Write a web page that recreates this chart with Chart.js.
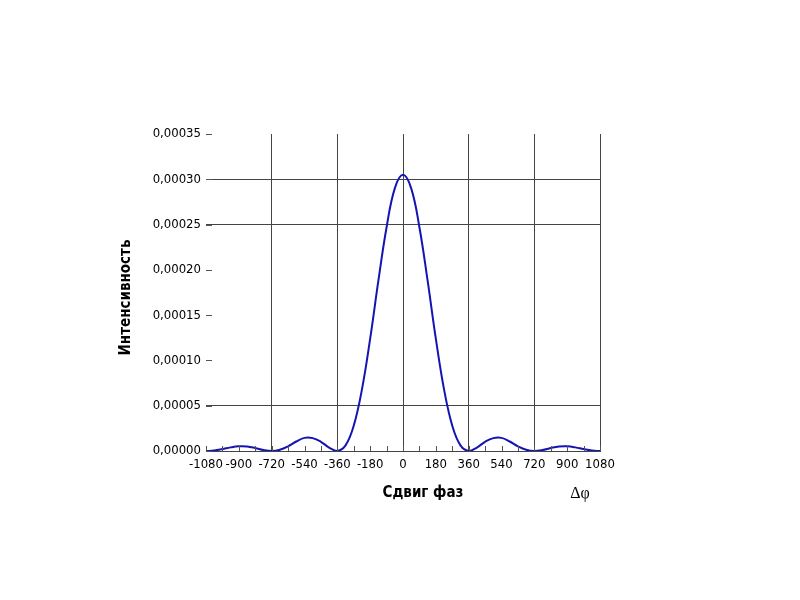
<!DOCTYPE html>
<html>
<head>
<meta charset="utf-8">
<script src="https://cdn.jsdelivr.net/npm/chart.js@4.4.1/dist/chart.umd.min.js"></script>
<style>
  html, body { margin: 0; padding: 0; background: #fff; }
</style>
</head>
<body>
<canvas id="myChart" width="800" height="600"></canvas>
<script>
// phase shift, degrees
const phaseShift = [-1080, -1035, -990, -945, -900, -855, -810, -765, -720, -675, -630, -585, -540, -495, -450, -405,
    -360, -315, -270, -225, -180, -135, -90, -45, 0, 45, 90, 135, 180, 225, 270, 315,
    360, 405, 450, 495, 540, 585, 630, 675, 720, 765, 810, 855, 900, 945, 990, 1035, 1080];
// intensity
const intensity = [0, 0.0000005, 0.0000021, 0.0000040, 0.0000052, 0.0000050, 0.0000033, 0.0000011,
    0, 0.0000014, 0.0000052, 0.0000105, 0.0000145, 0.0000142, 0.0000102, 0.0000038,
    0, 0.0000062, 0.000028, 0.000068, 0.000124, 0.000188, 0.000247, 0.000290, 0.000305,
    0.000290, 0.000247, 0.000188, 0.000124, 0.000068, 0.000028, 0.0000062,
    0, 0.0000038, 0.0000102, 0.0000142, 0.0000145, 0.0000105, 0.0000052, 0.0000014,
    0, 0.0000011, 0.0000033, 0.0000050, 0.0000052, 0.0000040, 0.0000021, 0.0000005, 0];
const xGridAt = [-720, -360, 0, 360, 720, 1080];
const yGridAt = ['0.00005', '0.00025', '0.00030'];

const tickFont = { family: "'DejaVu Sans Condensed', 'Liberation Sans Narrow', sans-serif", size: 13 };

const extras = {
    id: 'extras',
    afterDraw(chart) {
        const c = chart.ctx, a = chart.chartArea;
        const x = chart.scales.x, y = chart.scales.y;
        c.save();
        c.strokeStyle = '#555';
        c.lineWidth = 1;
        // small ticks on x axis, every 90
        for (let v = -1080; v <= 1080; v += 90) {
            const px = Math.round(x.getPixelForValue(v)) + 0.5;
            c.beginPath();
            c.moveTo(px, a.bottom);
            c.lineTo(px, a.bottom - 5);
            c.stroke();
        }
        // ticks on y axis
        y.ticks.forEach(t => {
            const py = Math.round(y.getPixelForValue(t.value)) + 0.5;
            c.beginPath();
            c.moveTo(a.left, py);
            c.lineTo(a.left + 6, py);
            c.stroke();
        });
        c.fillStyle = '#000';
        c.font = "bold 15px 'DejaVu Sans Condensed', 'Liberation Sans Narrow', sans-serif";
        c.textAlign = 'center';
        c.textBaseline = 'middle';
        c.fillText('Сдвиг фаз', a.left + 217, a.bottom + 42);
        c.font = "16px 'Liberation Serif', serif";
        c.fillText('Δφ', a.left + 374, a.bottom + 43);
        c.translate(a.left - 80, (a.top + a.bottom) / 2 + 5);
        c.rotate(-Math.PI / 2);
        c.font = "bold 15px 'DejaVu Sans Condensed', 'Liberation Sans Narrow', sans-serif";
        c.fillText('Интенсивность', 0, 0);
        c.restore();
    }
};

new Chart(document.getElementById('myChart'), {
    type: 'scatter',
    data: {
        datasets: [{
            data: phaseShift.map((p, i) => ({ x: p, y: intensity[i] })),
            showLine: true,
            borderColor: '#1414b4',
            borderWidth: 2,
            pointRadius: 0,
            tension: 0.4
        }]
    },
    options: {
        responsive: false,
        animation: false,
        layout: { padding: { left: 150, right: 200, top: 134, bottom: 119 } },
        plugins: { legend: { display: false }, tooltip: { enabled: false } },
        scales: {
            x: {
                type: 'linear',
                min: -1080,
                max: 1080,
                afterFit(scale) { scale.height = 30; },
                border: { display: true, color: '#444', width: 1 },
                grid: {
                    drawTicks: false,
                    color: ctx => xGridAt.includes(ctx.tick.value) ? '#444' : 'rgba(0,0,0,0)'
                },
                ticks: {
                    stepSize: 180, color: '#000', font: tickFont, padding: 6, maxRotation: 0, autoSkip: false,
                    callback: v => String(v)
                }
            },
            y: {
                min: 0,
                max: 0.00035,
                afterFit(scale) { scale.width = 56; },
                border: { display: false },
                grid: {
                    drawTicks: false,
                    color: ctx => yGridAt.includes(ctx.tick.value.toFixed(5)) ? '#444' : 'rgba(0,0,0,0)'
                },
                ticks: {
                    stepSize: 0.00005,
                    color: '#000',
                    font: tickFont,
                    padding: 5,
                    callback: v => v.toFixed(5).replace('.', ',')
                }
            }
        }
    },
    plugins: [extras]
});
</script>
</body>
</html>
